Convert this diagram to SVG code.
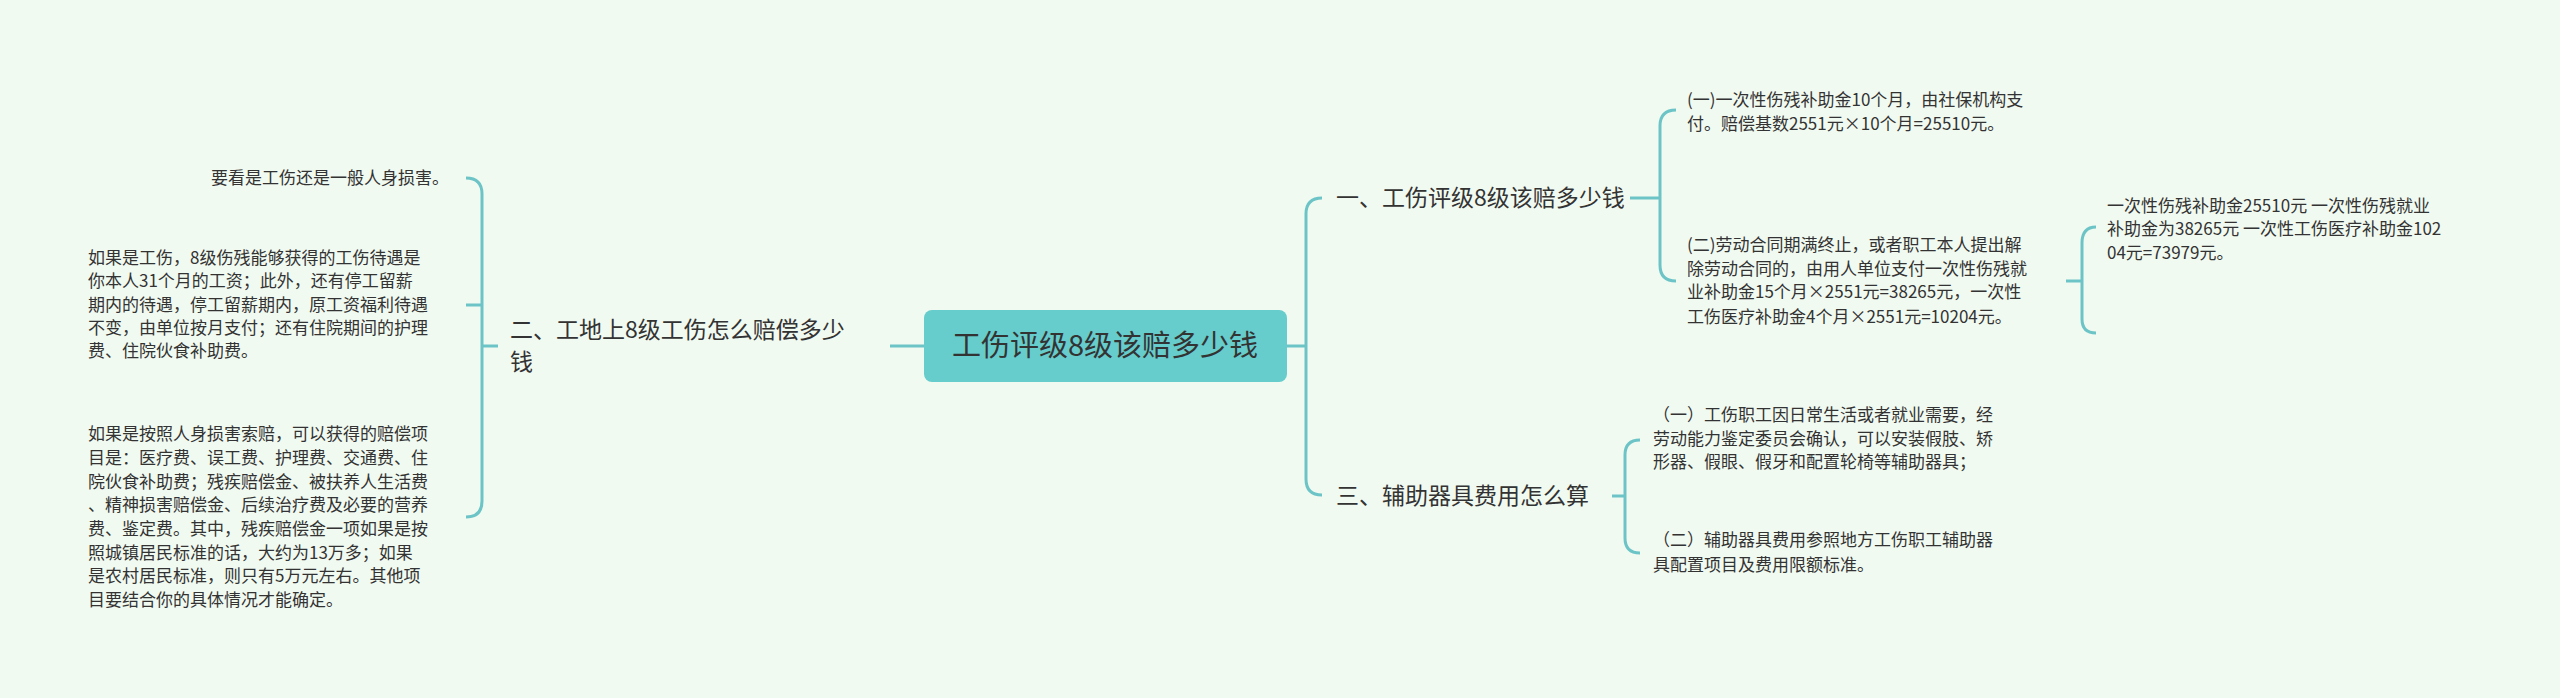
<svg xmlns="http://www.w3.org/2000/svg" width="2560" height="698" viewBox="0 0 2560 698">
<style>
.c{fill:none;stroke:#6cc4c7;stroke-width:3}
.t{font-family:"Noto Sans CJK SC","Liberation Sans",sans-serif;fill:#333}
.s{font-size:17px}
.m{font-size:23px}
</style>
<rect width="2560" height="698" fill="#f1faf1"/>
<g id="connectors">
<path class="c" d="M924 346H890"/>
<path class="c" d="M498 346H482M466 178Q482 178 482 194V501Q482 517 466 517M482 305H466"/>
<path class="c" d="M1287 346H1306M1322 198Q1306 198 1306 214V479Q1306 495 1322 495"/>
<path class="c" d="M1630 198H1660M1676 110Q1660 110 1660 126V265Q1660 281 1676 281"/>
<path class="c" d="M2066 281H2082M2096 227Q2082 227 2082 243V319Q2082 333 2096 333"/>
<path class="c" d="M1612 496H1625M1640 440Q1625 440 1625 455V538Q1625 553 1640 553"/>
</g>
<g id="root"><rect x="924" y="310" width="363" height="72" rx="8" fill="#66cccc"/>
<text class="t" x="1105" y="356" font-size="29" text-anchor="middle">工伤评级8级该赔多少钱</text></g>
<g id="b2"><text class="t m" x="510" y="338">二、工地上8级工伤怎么赔偿多少</text><text class="t m" x="510" y="370">钱</text></g>
<g id="l1"><text class="t s" x="449" y="184" text-anchor="end">要看是工伤还是一般人身损害。</text></g>
<g id="l2" class="t s">
<text x="88" y="264">如果是工伤，8级伤残能够获得的工伤待遇是</text>
<text x="88" y="287">你本人31个月的工资；此外，还有停工留薪</text>
<text x="88" y="311">期内的待遇，停工留薪期内，原工资福利待遇</text>
<text x="88" y="334">不变，由单位按月支付；还有住院期间的护理</text>
<text x="88" y="357">费、住院伙食补助费。</text></g>
<g id="l3" class="t s">
<text x="88" y="440">如果是按照人身损害索赔，可以获得的赔偿项</text>
<text x="88" y="464">目是：医疗费、误工费、护理费、交通费、住</text>
<text x="88" y="488">院伙食补助费；残疾赔偿金、被扶养人生活费</text>
<text x="88" y="511">、精神损害赔偿金、后续治疗费及必要的营养</text>
<text x="88" y="535">费、鉴定费。其中，残疾赔偿金一项如果是按</text>
<text x="88" y="559">照城镇居民标准的话，大约为13万多；如果</text>
<text x="88" y="582">是农村居民标准，则只有5万元左右。其他项</text>
<text x="88" y="606">目要结合你的具体情况才能确定。</text></g>
<g id="b1"><text class="t m" x="1336" y="206">一、工伤评级8级该赔多少钱</text></g>
<g id="r1" class="t s"><text x="1687" y="106">(一)一次性伤残补助金10个月，由社保机构支</text><text x="1687" y="130">付。赔偿基数2551元×10个月=25510元。</text></g>
<g id="r2" class="t s">
<text x="1687" y="251">(二)劳动合同期满终止，或者职工本人提出解</text>
<text x="1687" y="275">除劳动合同的，由用人单位支付一次性伤残就</text>
<text x="1687" y="298">业补助金15个月×2551元=38265元，一次性</text>
<text x="1687" y="323">工伤医疗补助金4个月×2551元=10204元。</text></g>
<g id="r3" class="t s">
<text x="2107" y="212">一次性伤残补助金25510元 一次性伤残就业</text>
<text x="2107" y="235">补助金为38265元 一次性工伤医疗补助金102</text>
<text x="2107" y="259">04元=73979元。</text></g>
<g id="b3"><text class="t m" x="1336" y="504">三、辅助器具费用怎么算</text></g>
<g id="r4" class="t s">
<text x="1653" y="421">（一）工伤职工因日常生活或者就业需要，经</text>
<text x="1653" y="445">劳动能力鉴定委员会确认，可以安装假肢、矫</text>
<text x="1653" y="468">形器、假眼、假牙和配置轮椅等辅助器具；</text></g>
<g id="r5" class="t s">
<text x="1653" y="546">（二）辅助器具费用参照地方工伤职工辅助器</text>
<text x="1653" y="571">具配置项目及费用限额标准。</text></g>
</svg>
